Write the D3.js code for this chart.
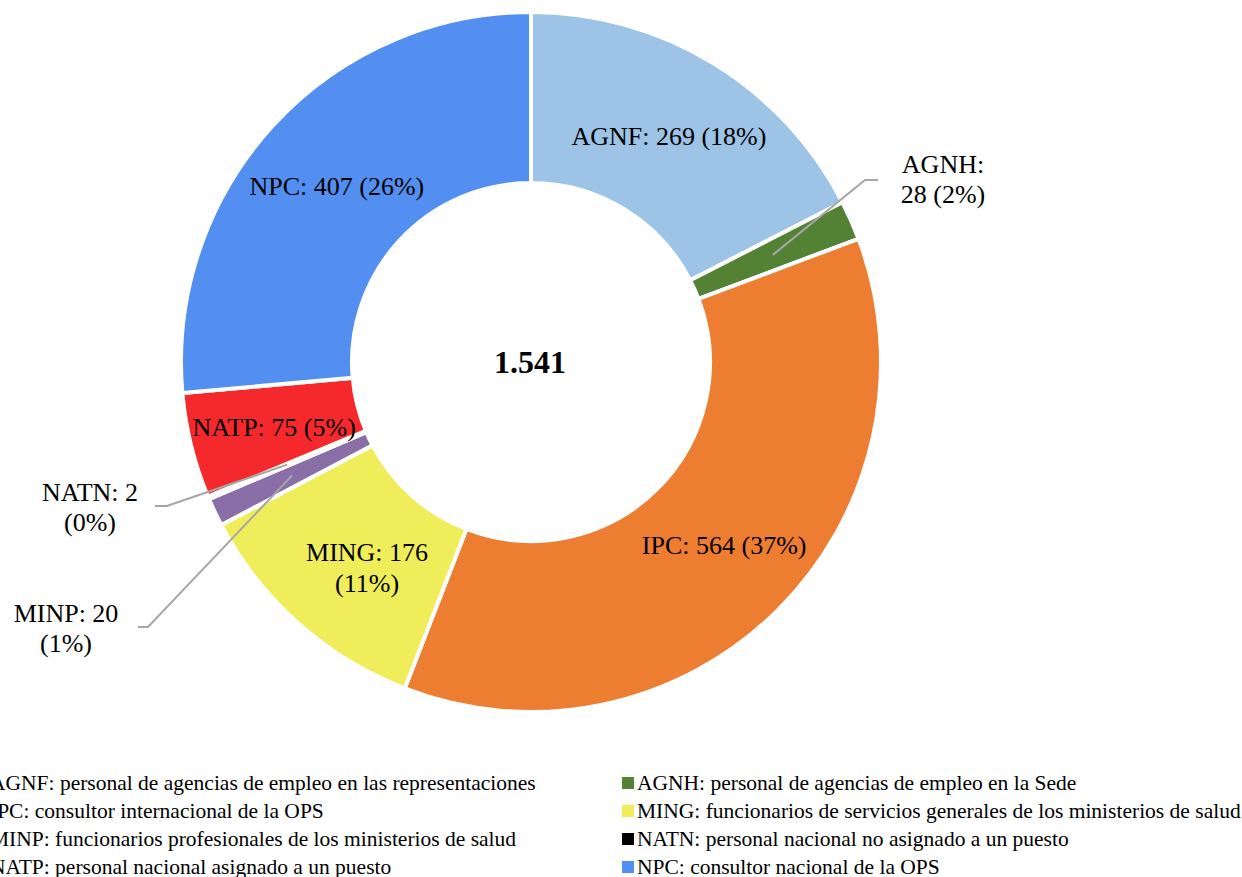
<!DOCTYPE html>
<html>
<head>
<meta charset="utf-8">
<script src="https://cdn.jsdelivr.net/npm/d3@7"></script>
<style>
  body { margin: 0; background: #fff; }
  svg { font-family: "Liberation Serif", "Times New Roman", serif; }
</style>
</head>
<body>
<svg id="chart" width="1242" height="877"></svg>
<script>
// data
var codes = ["AGNF", "AGNH", "IPC", "MING", "MINP", "NATN", "NATP", "NPC"];
var counts = [269, 28, 564, 176, 20, 2, 75, 407];
var pctLabels = ["18%", "2%", "37%", "11%", "1%", "0%", "5%", "26%"];
var descriptions = [
  "personal de agencias de empleo en las representaciones",
  "personal de agencias de empleo en la Sede",
  "consultor internacional de la OPS",
  "funcionarios de servicios generales de los ministerios de salud",
  "funcionarios profesionales de los ministerios de salud",
  "personal nacional no asignado a un puesto",
  "personal nacional asignado a un puesto",
  "consultor nacional de la OPS"
];
var colors = ["#9dc3e6", "#548235", "#ed7d31", "#efee5a", "#8a6ea8", "#000000", "#f5292b", "#528ff0"];
var total = d3.sum(counts);

var svg = d3.select("#chart");
var cx = 531, cy = 362;
var outerR = 350, innerR = 179;

var rows = codes.map(function(c, i) { return { code: c, value: counts[i], pct: pctLabels[i], desc: descriptions[i], color: colors[i] }; });

var pie = d3.pie().sort(null).value(function(d) { return d.value; });
var arc = d3.arc().innerRadius(innerR).outerRadius(outerR);
var arcs = pie(rows);

var g = svg.append("g").attr("transform", "translate(" + cx + "," + cy + ")");

g.selectAll("path")
  .data(arcs)
  .enter()
  .append("path")
  .attr("d", arc)
  .attr("fill", function(d) { return d.data.color; })
  .attr("stroke", "#fff")
  .attr("stroke-width", 4)
  .attr("stroke-linejoin", "miter");

// inside labels (placed near the ring centroid, nudged like Excel does)
var nudge = { AGNF: [0, 0], IPC: [7, -5], NPC: [1, 3], NATP: [0, 2], MING: [12, 0] };
arcs.forEach(function(a) {
  var c = arc.centroid(a);
  var n = nudge[a.data.code];
  if (!n) return;
  if (a.data.code === "MING") {
    var t = g.append("text")
      .attr("text-anchor", "middle")
      .style("font-size", "26px");
    t.append("tspan").attr("x", c[0] + n[0]).attr("y", c[1] + 2)
      .text(a.data.code + ": " + a.data.value);
    t.append("tspan").attr("x", c[0] + n[0]).attr("y", c[1] + 33)
      .text("(" + a.data.pct + ")");
  } else {
    g.append("text")
      .attr("x", c[0] + n[0]).attr("y", c[1] + n[1])
      .attr("dy", "0.34em")
      .attr("text-anchor", "middle")
      .style("font-size", "26px")
      .text(a.data.code + ": " + a.data.value + " (" + a.data.pct + ")");
  }
});

// outside labels with leader lines (page coords, baselines)
var outside = {
  AGNH: { tx: 943, ty: 173, elbow: [865, 180], end: [878, 180] },
  NATN: { tx: 90, ty: 501, elbow: [167, 506], end: [155, 506] },
  MINP: { tx: 66, ty: 622, elbow: [148, 627], end: [138, 627] }
};
arcs.forEach(function(a) {
  var o = outside[a.data.code];
  if (!o) return;
  var c = arc.centroid(a);
  svg.append("polyline")
    .attr("points", [[c[0] + cx, c[1] + cy], o.elbow, o.end].map(function(p) { return p.join(","); }).join(" "))
    .attr("fill", "none")
    .attr("stroke", "#a6a6a6")
    .attr("stroke-width", 2);
  var line1 = a.data.code === "AGNH" ? a.data.code + ":" : a.data.code + ": " + a.data.value;
  var line2 = a.data.code === "AGNH" ? a.data.value + " (" + a.data.pct + ")" : "(" + a.data.pct + ")";
  var t = svg.append("text").attr("text-anchor", "middle").style("font-size", "26px");
  t.append("tspan").attr("x", o.tx).attr("y", o.ty).text(line1);
  t.append("tspan").attr("x", o.tx).attr("y", o.ty + 30).text(line2);
});

// total in the hole
svg.append("text")
  .attr("x", cx - 1).attr("y", cy + 11)
  .attr("text-anchor", "middle")
  .style("font-size", "32px")
  .style("font-weight", "bold")
  .text(d3.format(",")(total).replace(",", "."));

// legend, two columns (left column runs off the page edge, as in the source)
var legend = svg.append("g");
var colX = [-25, 622], rowY = [783, 811, 839, 867];
var items = legend.selectAll("g")
  .data(rows)
  .enter()
  .append("g")
  .attr("transform", function(d, i) { return "translate(" + colX[i % 2] + "," + rowY[Math.floor(i / 2)] + ")"; });
items.append("rect")
  .attr("x", 0).attr("y", -6)
  .attr("width", 12).attr("height", 12)
  .attr("fill", function(d) { return d.color; });
items.append("text")
  .attr("x", 15).attr("y", 7)
  .style("font-size", "21.5px")
  .text(function(d) { return d.code + ": " + d.desc; });
</script>
</body>
</html>
